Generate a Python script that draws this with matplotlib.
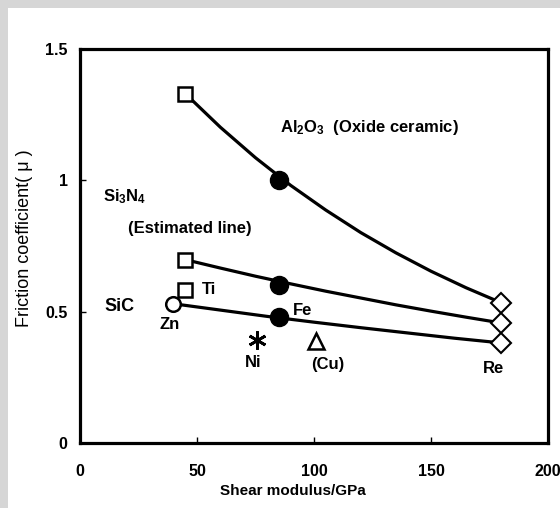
import numpy as np
import matplotlib
matplotlib.use("Agg")
import matplotlib.pyplot as plt
from matplotlib.patches import Rectangle

plt.rcParams['font.family'] = ['Liberation Sans', 'DejaVu Sans']
plt.rcParams['mathtext.default'] = 'regular'
plt.rcParams['font.weight'] = 'bold'

# curves (shear modulus GPa, friction coefficient)
al2o3_x = [45, 60, 75, 90, 105, 120, 135, 150, 165, 180]
al2o3_y = [1.33, 1.202, 1.086, 0.981, 0.887, 0.801, 0.724, 0.654, 0.591, 0.534]
si3n4_x = [45, 60, 75, 90, 105, 120, 135, 150, 165, 180]
si3n4_y = [0.698, 0.666, 0.635, 0.606, 0.578, 0.552, 0.526, 0.502, 0.479, 0.457]
sic_x = [40, 60, 80, 100, 120, 140, 160, 180]
sic_y = [0.53, 0.506, 0.482, 0.460, 0.439, 0.419, 0.399, 0.381]

# markers
sq_x = [45, 45, 45]          # Al2O3 / Si3N4 start, Ti
sq_y = [1.33, 0.698, 0.583]
fe_x = [85, 85, 85]          # filled circles (Fe)
fe_y = [1.0, 0.602, 0.48]
re_x = [180, 180, 180]       # diamonds (Re)
re_y = [0.534, 0.457, 0.381]
zn = (39.7, 0.53)
ni = (75.6, 0.393)
cu = (101, 0.39)

fig = plt.figure(figsize=(5.6, 5.08), dpi=100)
fig.patch.set_facecolor('white')
# grey scan frame
fig.patches.append(Rectangle((0, 1 - 8/508), 1, 8/508, transform=fig.transFigure,
                             facecolor='#d6d6d6', edgecolor='none', zorder=0))
fig.patches.append(Rectangle((0, 0), 8/560, 1, transform=fig.transFigure,
                             facecolor='#d6d6d6', edgecolor='none', zorder=0))

ax = fig.add_axes([80/560, 65/508, 468/560, 394/508])

lw = 2.3
ax.plot(al2o3_x, al2o3_y, 'k-', lw=lw, zorder=2)
ax.plot(si3n4_x, si3n4_y, 'k-', lw=lw, zorder=2)
ax.plot(sic_x, sic_y, 'k-', lw=lw, zorder=2)

ax.plot(sq_x, sq_y, 's', ms=10.5, mfc='white', mec='black', mew=1.8, ls='none', zorder=3)
ax.plot(fe_x, fe_y, 'o', ms=13, color='black', ls='none', zorder=3)
ax.plot(re_x, re_y, 'D', ms=10, mfc='white', mec='black', mew=1.5, ls='none', zorder=3)
ax.plot(*zn, 'o', ms=10.5, mfc='white', mec='black', mew=1.8, zorder=3)
ax.plot(*ni, marker=(6, 2, 0), ms=13, color='black', mew=2, zorder=3)
ax.plot(*cu, '^', ms=11, mfc='white', mec='black', mew=1.8, zorder=3)

fs = 12
ax.text(85.5, 1.203, 'Al$_2$O$_3$  (Oxide ceramic)', fontsize=fs, va='center')
ax.text(9.8, 0.936, 'Si$_3$N$_4$', fontsize=fs, va='center')
ax.text(20.5, 0.818, '(Estimated line)', fontsize=fs, va='center')
ax.text(10.5, 0.518, 'SiC', fontsize=fs + 1, va='center')
ax.text(52, 0.583, 'Ti', fontsize=fs, va='center')
ax.text(38.5, 0.45, 'Zn', fontsize=fs, va='center', ha='center')
ax.text(91, 0.506, 'Fe', fontsize=fs, va='center')
ax.text(74, 0.308, 'Ni', fontsize=fs, va='center', ha='center')
ax.text(106, 0.297, '(Cu)', fontsize=fs, va='center', ha='center')
ax.text(176.5, 0.285, 'Re', fontsize=fs, va='center', ha='center')

ax.set_xlim(0, 200)
ax.set_ylim(0, 1.5)
ax.set_xticks([0, 50, 100, 150, 200])
ax.set_xticklabels(['0', '50', '100', '150', '200'])
ax.set_yticks([0, 0.5, 1, 1.5])
ax.set_yticklabels(['0', '0.5', '1', '1.5'])
ax.tick_params(direction='in', length=4, width=1, labelsize=11.5)
ax.tick_params(axis='x', pad=15)
ax.tick_params(axis='y', pad=9)
for s in ax.spines.values():
    s.set_linewidth(2.3)

ax.set_xlabel('Shear modulus/GPa', fontsize=11, fontweight='bold')
ax.xaxis.set_label_coords(0.455, -0.105)
ax.set_ylabel('Friction coefficient( μ )', fontsize=13, fontweight='normal')
ax.yaxis.set_label_coords(-0.10, 0.52)

fig.savefig('out.png', dpi=100)
